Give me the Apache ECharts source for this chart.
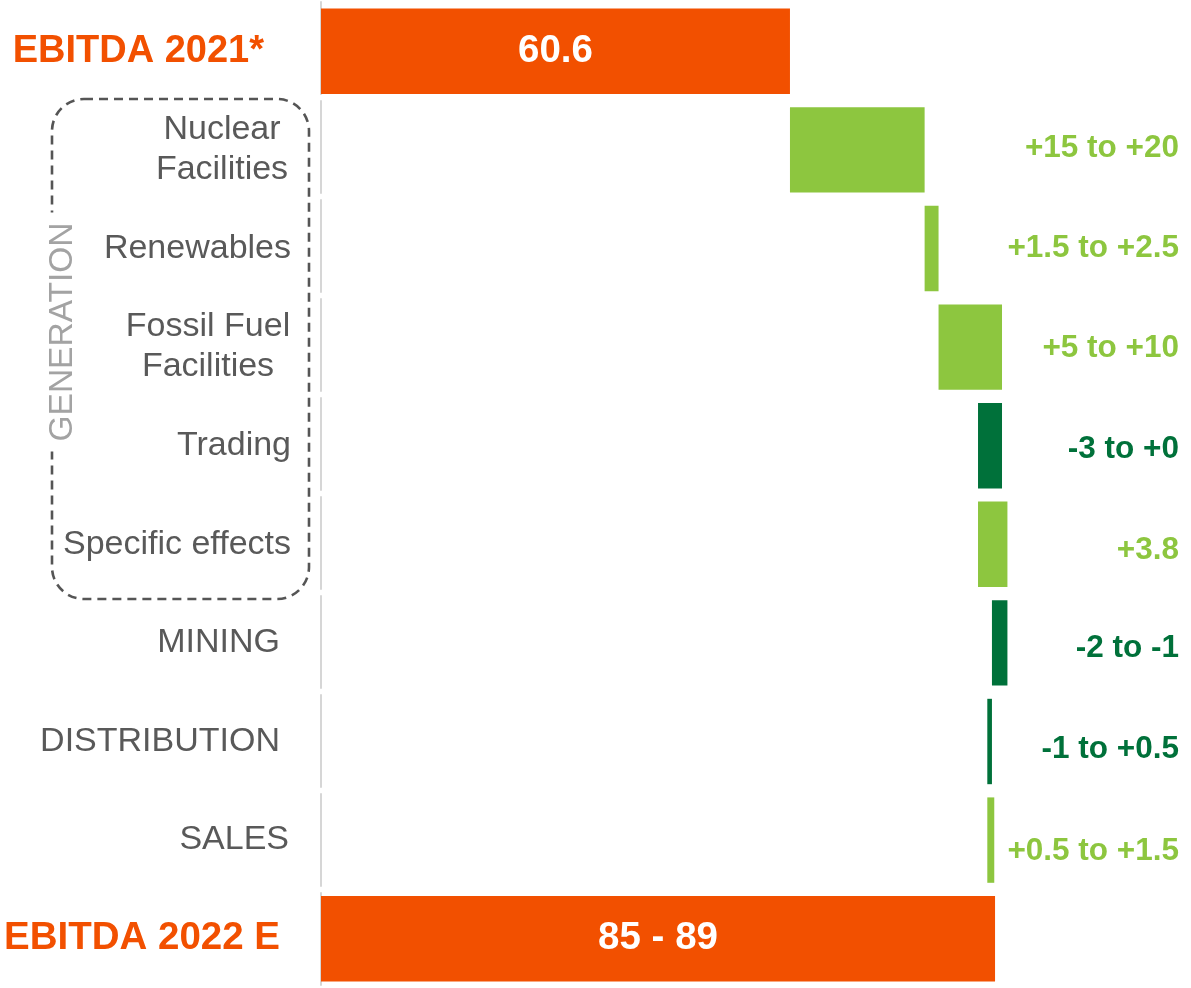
<!DOCTYPE html>
<html>
<head>
<meta charset="utf-8">
<script src="https://cdn.jsdelivr.net/npm/echarts@6/dist/echarts.min.js"></script>
<style>
  html, body { margin: 0; padding: 0; background: #ffffff; }
  #chart { width: 1191px; height: 988px; }
</style>
</head>
<body>
<div id="chart"></div>
<script>
// ---- data ----
const categories = ['EBITDA 2021*', 'Nuclear\nFacilities', 'Renewables', 'Fossil Fuel\nFacilities', 'Trading',
  'Specific effects', 'MINING', 'DISTRIBUTION', 'SALES', 'EBITDA 2022 E'];
const startTotal = 60.6;
const endTotal = 87.1;
const deltas = [17.4, 1.8, 8.2, -3.1, 3.8, -2.0, -0.6, 0.9];
const rangeLabels = ['+15 to +20', '+1.5 to +2.5', '+5 to +10', '-3 to +0', '+3.8', '-2 to -1', '-1 to +0.5', '+0.5 to +1.5'];
const totalLabels = ['60.6', '85 - 89'];

// ---- style ----
const ORANGE = '#F25000';
const LIGHT = '#8DC63F';
const DARK = '#00713A';
const GRAY = '#595959';
const FONT = "'Liberation Sans', Arial, sans-serif";
const X_MAX = 111;
const labelNudge = [-2, 0, 1, 4, 6, 5, 8, 11];

// build waterfall stacks
const baseData = [0];
const valueData = [{ value: startTotal, itemStyle: { color: ORANGE }, label: { show: true, formatter: totalLabels[0] } }];
let cum = startTotal;
deltas.forEach(function (d) {
  if (d >= 0) {
    baseData.push(cum);
    valueData.push({ value: d, itemStyle: { color: LIGHT } });
  } else {
    baseData.push(cum + d);
    valueData.push({ value: -d, itemStyle: { color: DARK } });
  }
  cum += d;
});
baseData.push(0);
valueData.push({ value: endTotal, itemStyle: { color: ORANGE }, label: { show: true, formatter: totalLabels[1] } });

const rangeData = deltas.map(function (d, i) {
  return {
    value: [X_MAX, i + 1],
    label: { formatter: rangeLabels[i], color: d >= 0 ? LIGHT : DARK, offset: [0, labelNudge[i]] }
  };
});

const richKey = {
  'EBITDA 2021*': 't1', 'EBITDA 2022 E': 't2', 'Nuclear\nFacilities': 'nc', 'Fossil Fuel\nFacilities': 'fc',
  'MINING': 'sg', 'DISTRIBUTION': 'sg', 'SALES': 'sl'
};

const chart = echarts.init(document.getElementById('chart'), null, { renderer: 'canvas' });
chart.setOption({
  backgroundColor: '#ffffff',
  animation: false,
  grid: { left: 321, right: 11, top: 2, bottom: -2, containLabel: false },
  xAxis: {
    type: 'value', min: 0, max: X_MAX,
    axisLine: { show: false }, axisTick: { show: false }, axisLabel: { show: false }, splitLine: { show: false }
  },
  yAxis: {
    type: 'category', inverse: true, data: categories,
    axisTick: { show: false },
    axisLine: { show: true, lineStyle: { color: '#d6d6d6', width: 2, type: [92, 7], dashOffset: 0 } },
    axisLabel: {
      margin: 30,
      fontFamily: FONT, fontSize: 34, color: GRAY,
      formatter: function (v) {
        const k = richKey[v] || 'n';
        return v.split('\n').map(function (s) { return '{' + k + '|' + s + '}'; }).join('\n');
      },
      rich: {
        n: { fontFamily: FONT, fontSize: 34, color: GRAY },
        nc: { fontFamily: FONT, fontSize: 34, color: GRAY, width: 138, align: 'center', lineHeight: 40 },
        fc: { fontFamily: FONT, fontSize: 34, color: GRAY, width: 166, align: 'center', lineHeight: 40 },
        sg: { fontFamily: FONT, fontSize: 34, color: GRAY, padding: [0, 11, 0, 0] },
        sl: { fontFamily: FONT, fontSize: 34, color: GRAY, padding: [0, 2, 0, 0] },
        t1: { fontFamily: FONT, fontSize: 38, fontWeight: 'bold', color: ORANGE, padding: [0, 27, 0, 0] },
        t2: { fontFamily: FONT, fontSize: 38.5, fontWeight: 'bold', color: ORANGE, padding: [0, 11, 0, 0] }
      }
    }
  },
  series: [
    {
      type: 'bar', stack: 'w', data: baseData, silent: true,
      itemStyle: { color: 'rgba(0,0,0,0)' }, barCategoryGap: '13.4%'
    },
    {
      type: 'bar', stack: 'w', data: valueData, barCategoryGap: '13.4%',
      label: {
        show: false, position: 'inside', color: '#ffffff', fontFamily: FONT, fontSize: 38.5, fontWeight: 'bold'
      }
    },
    {
      type: 'scatter', data: rangeData, symbolSize: 0, silent: true,
      itemStyle: { opacity: 1 },
      label: {
        show: true, position: 'left', distance: 1, fontFamily: FONT, fontSize: 31.5, fontWeight: 'bold', opacity: 1
      }
    }
  ],
  graphic: [
    {
      type: 'rect', z: 50,
      shape: { x: 52, y: 99, width: 257, height: 500, r: 32 },
      style: { fill: 'none', stroke: '#555555', lineWidth: 2.6, lineDash: [9, 6] }
    },
    {
      type: 'text', z: 51, x: 63, y: 332, rotation: Math.PI / 2,
      style: {
        text: 'GENERATION', font: '33.5px ' + FONT, fill: '#a3a3a3',
        align: 'center', verticalAlign: 'middle',
        backgroundColor: '#ffffff', padding: [4, 10]
      }
    }
  ]
});
</script>
</body>
</html>
